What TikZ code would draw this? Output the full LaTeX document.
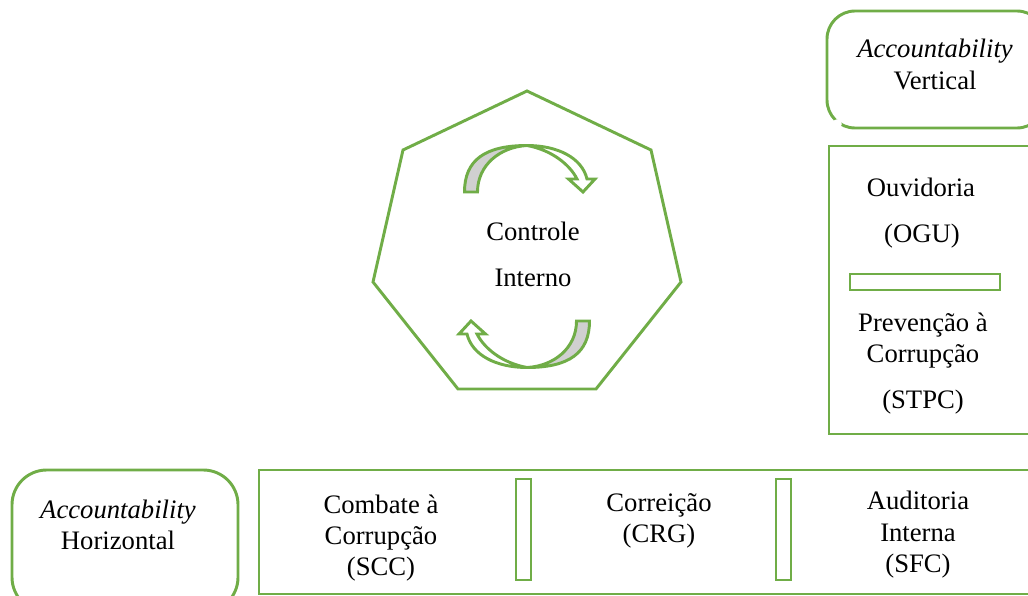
\documentclass[tikz,border=0pt]{standalone}
\usepackage{fontspec}
\setmainfont{Liberation Serif}
\definecolor{gr}{HTML}{70AD47}
\definecolor{gy}{HTML}{D0D0D0}
\tikzset{
  shp/.style={draw=gr,line width=2.2pt,fill=white,line join=miter},
  lbl/.style={anchor=base,inner sep=0pt,font=\fontsize{20}{24}\selectfont,text=black}
}
\newcommand{\curvedarrow}{%
  \fill[gy] (464.5,192) .. controls (464.5,160) and (485,145.5) .. (527,145.5) .. controls (500,147) and (477.5,165) .. (477.5,192) -- cycle;
  \draw[shp,fill=none] (464.5,192) .. controls (464.5,160) and (485,145.5) .. (527,145.5) .. controls (500,147) and (477.5,165) .. (477.5,192) -- cycle;
  \draw[shp] (527,145.5) .. controls (558,145.5) and (582,158) .. (587,179) -- (595,179) -- (583,192) -- (568.5,179) -- (577,179) .. controls (570,165) and (552,150) .. (527,145.5) -- cycle;
}
\begin{document}
\begin{tikzpicture}[x=0.75pt,y=-0.75pt]
\useasboundingbox (0,0) rectangle (1028,596);
\begin{scope}
\clip (0,0) rectangle (1028,596);
% top-right rounded box
\draw[shp,rounded corners=21pt] (827,11) rectangle (1045,128);
\fill[white] (837,124) circle[radius=3.6pt];
% right column
\draw[shp] (829,146) rectangle (1040,434);
\draw[shp] (850,274) rectangle (1000,290);
% heptagon
\draw[shp] (527,91) -- (651,150) -- (681,282) -- (596,389) -- (458,389) -- (373,282) -- (403,150) -- cycle;
% curved arrows
\curvedarrow
\begin{scope}[shift={(1054,513)},x=-0.75pt,y=0.75pt]
\curvedarrow
\end{scope}
% bottom row
\draw[shp,rounded corners=26pt] (12,470) rectangle (238,612);
\draw[shp] (259,470) rectangle (1040,594);
\draw[draw=white,line width=1pt] (297,595.5) -- (465,595.5);
\draw[shp] (516,479) rectangle (531,580);
\draw[shp] (776,479) rectangle (791,580);
\end{scope}
% labels
\node[lbl] (av1) at (935,57) {\itshape Accountability};
\node[lbl] (av2) at (935,89) {Vertical};
\node[lbl] (ci1) at (533,240) {Controle};
\node[lbl] (ci2) at (533,286) {Interno};
\node[lbl] (ou1) at (921,196) {Ouvidoria};
\node[lbl] (ou2) at (922,242) {(OGU)};
\node[lbl] (pc1) at (923,331) {Prevenção à};
\node[lbl] (pc2) at (923,362) {Corrupção};
\node[lbl] (pc3) at (923,408) {(STPC)};
\node[lbl] (ah1) at (118,518) {\itshape Accountability};
\node[lbl] (ah2) at (118,549) {Horizontal};
\node[lbl] (cc1) at (381,513) {Combate à};
\node[lbl] (cc2) at (381,544) {Corrupção};
\node[lbl] (cc3) at (381,575) {(SCC)};
\node[lbl] (cr1) at (659,511) {Correição};
\node[lbl] (cr2) at (659,542) {(CRG)};
\node[lbl] (au1) at (918,509) {Auditoria};
\node[lbl] (au2) at (918,541) {Interna};
\node[lbl] (au3) at (918,572) {(SFC)};
\end{tikzpicture}
\end{document}
